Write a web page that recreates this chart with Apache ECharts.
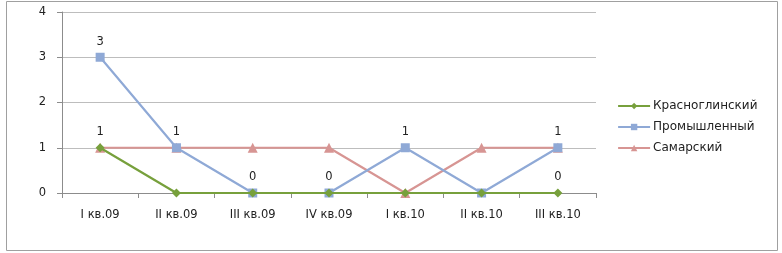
<!DOCTYPE html>
<html><head><meta charset="utf-8">
<script src="https://cdn.jsdelivr.net/npm/echarts@6/dist/echarts.min.js"></script>
<style>html,body{margin:0;padding:0;background:#fff}#c{width:782px;height:253px;position:relative}</style>
</head><body><div id="c"></div>
<script>
const categories = ['I кв.09','II кв.09','III кв.09','IV кв.09','I кв.10','II кв.10','III кв.10'];
const krasnoglinsky = [1,0,0,0,0,0,0];
const promyshlenny = [3,1,0,0,1,0,1];
const samarsky = [1,1,1,1,0,1,1];
const krasLabels = [true,false,false,false,false,false,true];
const promLabels = [true,true,true,true,true,false,true];
const yTicks = [0,1,2,3,4];

const font = 'DejaVu Sans';
function withLabels(vals, flags){
  return vals.map((v,i)=>({value:v,label:{show:flags[i]}}));
}
const chart = echarts.init(document.getElementById('c'));
chart.setOption({
  animation:false,
  graphic:[{type:'rect',shape:{x:6.5,y:1.5,width:771,height:249},style:{fill:'none',stroke:'#a0a0a0',lineWidth:1},silent:true}],
  grid:{left:62,right:186,top:12,bottom:60},
  legend:{orient:'vertical',left:612,top:95,itemWidth:32,itemHeight:8,itemGap:9,
    lineStyle:{width:2.2},
    textStyle:{fontFamily:font,fontSize:12,color:'#222',padding:[0,0,0,-2]},
    data:['Красноглинский','Промышленный','Самарский']},
  xAxis:{type:'category',data:categories,boundaryGap:true,
    axisLine:{lineStyle:{color:'#8c8c8c'}},
    axisTick:{show:true,length:5,lineStyle:{color:'#8c8c8c'}},
    axisLabel:{fontFamily:font,fontSize:11.5,color:'#222',margin:16}},
  yAxis:{type:'value',min:0,max:4,interval:1,
    axisLine:{show:true,lineStyle:{color:'#8c8c8c'}},
    axisTick:{show:true,length:5,lineStyle:{color:'#8c8c8c'}},
    splitLine:{lineStyle:{color:'#bdbdbd',width:1}},
    axisLabel:{fontFamily:font,fontSize:11.5,color:'#222',margin:16,
      formatter:v=>yTicks.includes(v)?String(v):''}},
  series:[
    {name:'Красноглинский',type:'line',data:withLabels(krasnoglinsky,krasLabels),
      symbol:'diamond',symbolSize:9,color:'#77a03c',lineStyle:{width:2.2},
      label:{position:'top',distance:5,fontFamily:font,fontSize:11.5,color:'#222'},z:3},
    {name:'Промышленный',type:'line',data:withLabels(promyshlenny,promLabels),
      symbol:'rect',symbolSize:9,color:'#8fa9d6',lineStyle:{width:2.2},
      label:{position:'top',distance:5,fontFamily:font,fontSize:11.5,color:'#222'},z:2},
    {name:'Самарский',type:'line',data:samarsky,
      symbol:'triangle',symbolSize:10,color:'#d79593',lineStyle:{width:2.2},z:1}
  ]
});
</script></body></html>
